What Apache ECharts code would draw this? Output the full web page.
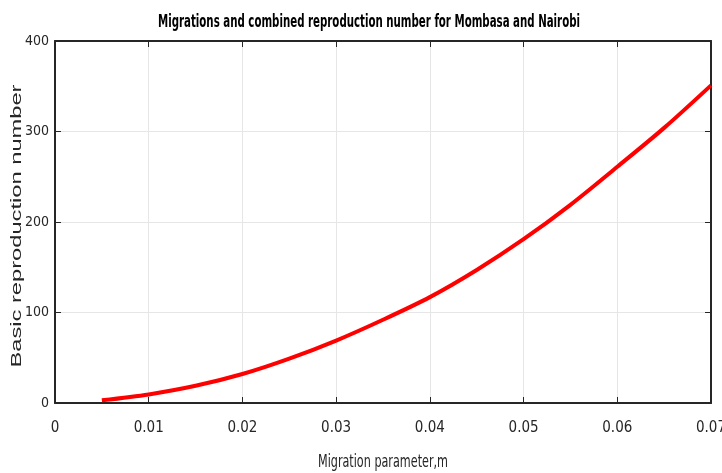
<!DOCTYPE html>
<html>
<head>
<meta charset="utf-8">
<script src="https://cdn.jsdelivr.net/npm/echarts@6/dist/echarts.min.js"></script>
<style>
  html, body { margin: 0; padding: 0; background: #fff; }
  #chart { width: 722px; height: 473px; }
</style>
</head>
<body>
<div id="chart"></div>
<script>
// migration parameter m and the combined reproduction number
const migration = [0.005, 0.01, 0.015, 0.02, 0.025, 0.03, 0.035, 0.04, 0.045, 0.05, 0.055, 0.06, 0.065, 0.07];
const reproNumber = [3, 9.5, 19, 32, 49, 69, 92, 117, 147, 181, 219, 261, 304, 351];

const titleText = 'Migrations and combined reproduction number for Mombasa and Nairobi';
const xName = 'Migration parameter,m';
const yName = 'Basic reproduction number';

const narrow = '"DejaVu Sans Condensed", sans-serif';
const axisColor = '#262626';

// the reference uses a narrow / stretched font, so scale text to the measured width
const measureCtx = document.createElement('canvas').getContext('2d');
const fitScale = (text, font, target) => {
  measureCtx.font = font;
  return target / measureCtx.measureText(text).width;
};

const titleScale = fitScale(titleText, 'bold 18px "DejaVu Sans Condensed"', 422);
const xNameScale = fitScale(xName, '17px "DejaVu Sans Condensed"', 130);
const yNameScale = fitScale(yName, '14px "Liberation Sans"', 283);

const chart = echarts.init(document.getElementById('chart'));

const lineData = migration.map((m, i) => [m, reproNumber[i]]);

const option = {
  animation: false,
  backgroundColor: '#fff',
  grid: {
    left: 55,
    right: 11,
    top: 41,
    bottom: 70,
    containLabel: false,
    outerBoundsMode: 'none'
  },
  graphic: [
    {
      type: 'text',
      x: 369,
      y: 22,
      scaleX: titleScale,
      style: {
        text: titleText,
        fontFamily: 'DejaVu Sans Condensed',
        fontWeight: 'bold',
        fontSize: 18,
        fill: '#000',
        align: 'center',
        verticalAlign: 'middle'
      }
    },
    {
      type: 'text',
      x: 383,
      y: 463,
      scaleX: xNameScale,
      style: {
        text: xName,
        fontFamily: 'DejaVu Sans Condensed',
        fontSize: 17,
        fill: axisColor,
        align: 'center',
        verticalAlign: 'middle'
      }
    },
    {
      type: 'text',
      x: 17,
      y: 226,
      rotation: Math.PI / 2,
      scaleX: yNameScale,
      style: {
        text: yName,
        fontFamily: 'Liberation Sans',
        fontSize: 14,
        fill: axisColor,
        align: 'center',
        verticalAlign: 'middle'
      }
    }
  ],
  xAxis: [
    {
      type: 'value',
      min: 0,
      max: 0.07,
      interval: 0.01,
      axisLine: { lineStyle: { color: axisColor, width: 2 } },
      axisTick: { inside: true, length: 6, lineStyle: { color: axisColor, width: 1 } },
      axisLabel: { fontFamily: narrow, fontSize: 15, color: axisColor, margin: 18 },
      splitLine: { show: true, lineStyle: { color: '#e6e6e6', width: 1 } }
    },
    {
      type: 'value',
      position: 'top',
      min: 0,
      max: 0.07,
      interval: 0.01,
      axisLine: { show: true, onZero: false, lineStyle: { color: axisColor, width: 2 } },
      axisTick: { show: true, inside: true, length: 6, lineStyle: { color: axisColor, width: 1 } },
      axisLabel: { show: false },
      splitLine: { show: false }
    }
  ],
  yAxis: [
    {
      type: 'value',
      min: 0,
      max: 400,
      interval: 100,
      axisLine: { show: true, lineStyle: { color: axisColor, width: 2 } },
      axisTick: { show: true, inside: true, length: 6, lineStyle: { color: axisColor, width: 1 } },
      axisLabel: { fontFamily: narrow, fontSize: 14, color: axisColor, margin: 6 },
      splitLine: { show: true, lineStyle: { color: '#e6e6e6', width: 1 } }
    },
    {
      type: 'value',
      position: 'right',
      min: 0,
      max: 400,
      interval: 100,
      axisLine: { show: true, onZero: false, lineStyle: { color: axisColor, width: 2 } },
      axisTick: { show: true, inside: true, length: 6, lineStyle: { color: axisColor, width: 1 } },
      axisLabel: { show: false },
      splitLine: { show: false }
    }
  ],
  series: [
    {
      type: 'line',
      data: lineData,
      smooth: 0.3,
      showSymbol: false,
      lineStyle: { color: '#ff0000', width: 4 },
      itemStyle: { color: '#ff0000' }
    }
  ]
};

chart.setOption(option);
</script>
</body>
</html>
